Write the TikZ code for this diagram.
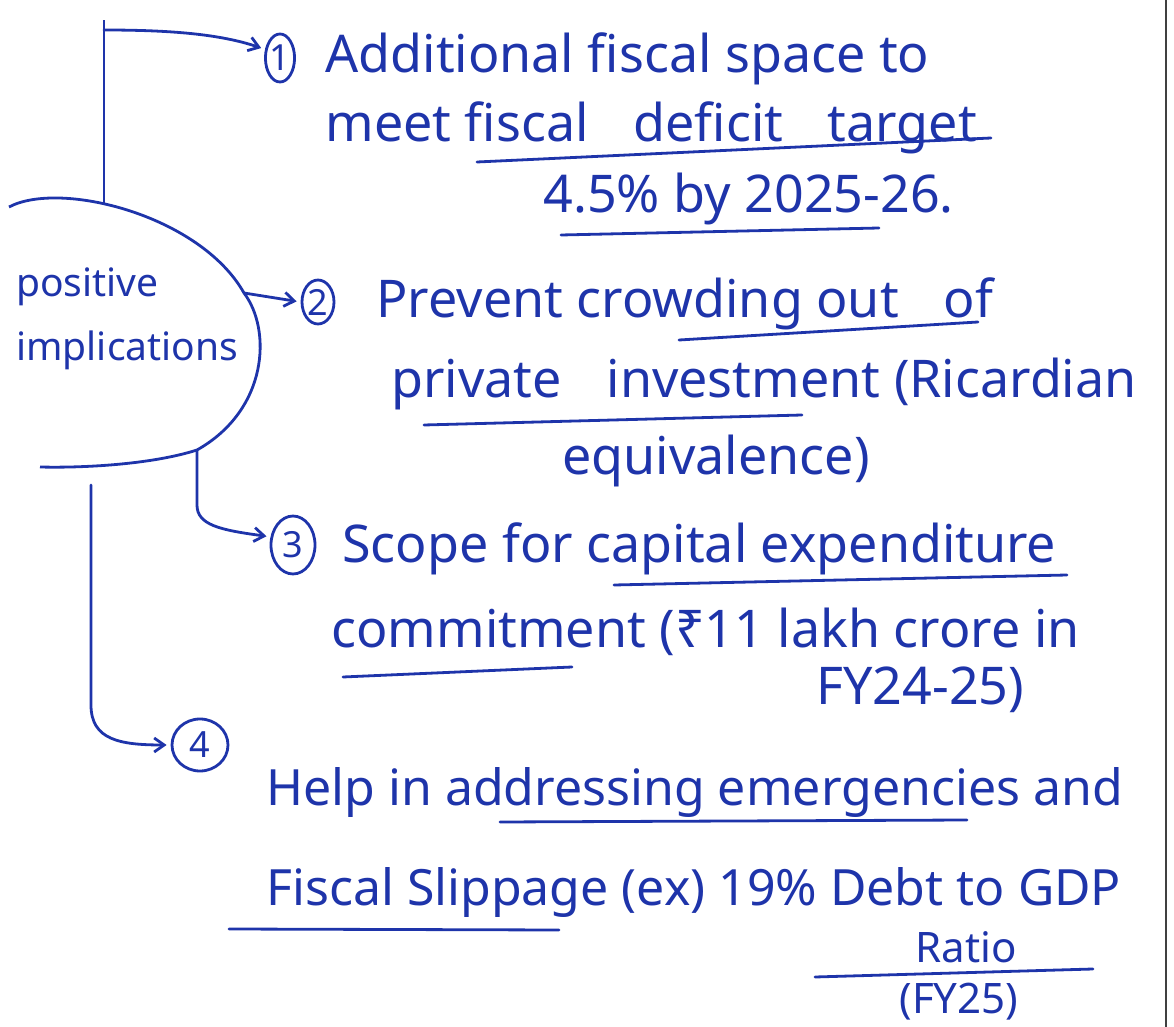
\documentclass[tikz,border=0pt]{standalone}
\usepackage{fontspec}
\setmainfont{Noto Sans}
\usetikzlibrary{arrows.meta,shapes.geometric}
\definecolor{ink}{RGB}{30,52,170}
\tikzset{every picture/.style={line width=1.4pt}}
\tikzset{
  txt/.style={anchor=base west, inner sep=0pt, text=ink, font=\fontsize{26}{30}\selectfont},
  txtsm/.style={txt, font=\fontsize{25}{30}\selectfont},
  txtxs/.style={txt, font=\fontsize{21}{24}\selectfont},
  numcirc/.style={ellipse, draw=ink, inner sep=0pt, text=ink, font=\fontsize{18}{20}\selectfont},
  uline/.style={draw=ink, line cap=round},
  conn/.style={draw=ink, line cap=round, shorten >=2pt, -{Straight Barb[length=5pt,width=7pt]}}
}

\begin{document}
\begin{tikzpicture}[x=0.5pt,y=0.5pt,yscale=-1,xscale=1]
\useasboundingbox (0,0) rectangle (1174,1027);

%Straight Lines: page edge
\draw [black!75, line width=1pt] (1166,0) -- (1166,1027);

%Shape: open oval round the title
\draw [ink] (9,207) .. controls (60,180) and (200,215) .. (244,293) .. controls (272,330) and (268,410) .. (197,450) .. controls (150,465) and (80,468) .. (40,467);
\coordinate (a1) at (104,204);
\coordinate (a2) at (244,293);
\coordinate (a3) at (197,450);
\coordinate (c1) at (104,30);
\coordinate (c4) at (91,485);

% Text Node
\node [txt, align=left, anchor=north west, font=\fontsize{19.5}{32}\selectfont] (pos) at (15,266) {positive\\implications};

% Circled numbers
\node [numcirc, minimum width=14pt, minimum height=24pt] (n1) at (280,58) {1};
\node [numcirc, minimum width=16pt, minimum height=22pt] (n2) at (318,302) {2};
\node [numcirc, minimum width=22pt, minimum height=29pt] (n3) at (293,545) {3};
\node [numcirc, minimum width=28pt, minimum height=26pt] (n4) at (200,745) {4};

%Straight Lines: connectors
\draw [ink] (a1) -- (104,20);
\draw [conn] (c1) .. controls (170,30) and (220,34) .. (n1.150);
\draw [conn] (a2) -- (n2.west);
\draw [conn] (a3) -- (197,505) .. controls (197,525) and (220,530) .. (n3.160);
\draw [conn] (c4) -- (91,705) .. controls (91,740) and (120,745) .. (n4.west);

% Text Node: point 1
\node [txt] (t1a) at (324,73) {Additional fiscal space to};
\node [txt] (t1b) at (324,142) {meet fiscal\hspace{0.6em} deficit\hspace{0.6em} target};
\node [txt] (t1c) at (542,213) {4.5\% by 2025-26.};
% Text Node: point 2
\node [txt] (t2a) at (375,318) {Prevent crowding out\hspace{0.6em} of};
\node [txt] (t2b) at (390,398) {private\hspace{0.6em} investment (Ricardian};
\node [txt] (t2c) at (561,474) {equivalence)};
% Text Node: point 3
\node [txt] (t3a) at (341,562) {Scope for capital expenditure};
\node [txt] (t3b) at (330,647) {commitment (₹11 lakh crore in};
\node [txt] (t3c) at (815,704) {FY24-25)};
% Text Node: point 4
\node [txtsm] (t4a) at (265,805) {Help in addressing emergencies and};
\node [txtsm] (t4b) at (265,905) {Fiscal Slippage (ex) 19\% Debt to GDP};
\node [txtxs] (t4c) at (914,962) {Ratio};
\node [txtxs] (t4d) at (898,1013) {(FY25)};

%Straight Lines: underlines
\draw [uline] (477,162) -- (991,138);
\draw [uline] (561,235) -- (879,228);
\draw [uline] (679,340) -- (978,322);
\draw [uline] (424,425) -- (802,415);
\draw [uline] (614,585) -- (1067,575);
\draw [uline] (343,677) -- (572,667);
\draw [uline] (500,822) -- (967,820);
\draw [uline] (229,929) -- (559,930);
\draw [uline] (815,977) -- (1093,969);

\end{tikzpicture}
\end{document}
